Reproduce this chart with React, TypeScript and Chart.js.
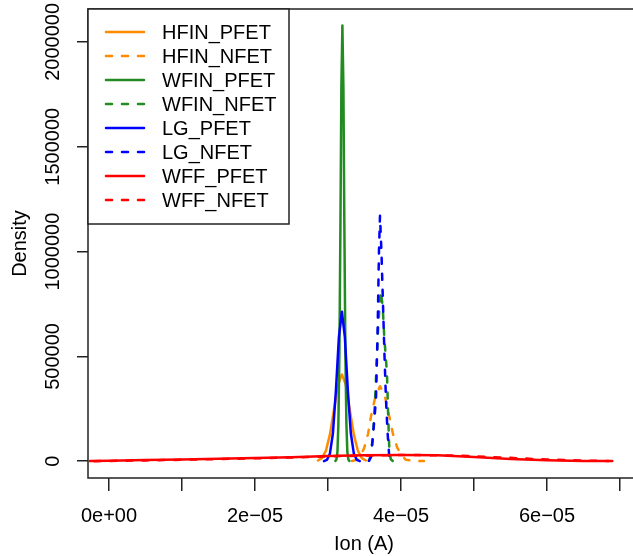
import { useEffect, useRef } from 'react';
import { Chart, registerables } from 'chart.js';

Chart.register(...registerables);

// ---- data (x in amperes, y = density) ----
const seriesNames = ['HFIN_PFET', 'HFIN_NFET', 'WFIN_PFET', 'WFIN_NFET', 'LG_PFET', 'LG_NFET', 'WFF_PFET', 'WFF_NFET'];
const seriesColors = ['#FF8C00', '#FF8C00', '#228B22', '#228B22', '#0000FF', '#0000FF', '#FF0000', '#FF0000'];
const seriesDashed = [false, true, false, true, false, true, false, true];

const hfinPfetX = [2.862e-5, 2.917e-5, 2.971e-5, 3.026e-5, 3.081e-5, 3.136e-5, 3.19e-5, 3.245e-5, 3.299e-5, 3.354e-5, 3.409e-5, 3.463e-5, 3.518e-5];
const hfinPfetY = [3600, 15000, 50000, 127000, 244000, 363000, 414000, 363000, 244000, 127000, 50000, 15000, 3600];

const hfinNfetX = [3.329e-5, 3.411e-5, 3.493e-5, 3.548e-5, 3.589e-5, 3.644e-5, 3.712e-5, 3.78e-5, 3.839e-5, 3.89e-5, 3.948e-5, 4.013e-5, 4.067e-5, 4.176e-5, 4.313e-5];
const hfinNfetY = [1000, 8000, 60000, 130000, 214000, 300000, 358000, 310000, 214000, 130000, 65000, 25000, 7000, 2000, 500];

const wfinPfetX = [3.101e-5, 3.115e-5, 3.129e-5, 3.142e-5, 3.156e-5, 3.17e-5, 3.183e-5, 3.197e-5, 3.211e-5, 3.224e-5, 3.238e-5, 3.252e-5, 3.265e-5, 3.279e-5, 3.293e-5];
const wfinPfetY = [1000, 8000, 44000, 177000, 520000, 1120000, 1780000, 2078000, 1780000, 1120000, 520000, 177000, 44000, 8000, 1000];

const wfinNfetX = [3.558e-5, 3.585e-5, 3.61e-5, 3.633e-5, 3.661e-5, 3.688e-5, 3.722e-5, 3.749e-5, 3.77e-5, 3.807e-5, 3.824e-5, 3.838e-5, 3.859e-5, 3.886e-5];
const wfinNfetY = [2000, 25000, 103000, 214000, 420000, 650000, 811000, 740000, 597000, 423000, 220000, 71000, 10000, 1000];

const lgPfetX = [2.944e-5, 2.985e-5, 3.026e-5, 3.067e-5, 3.108e-5, 3.149e-5, 3.19e-5, 3.231e-5, 3.272e-5, 3.313e-5, 3.354e-5, 3.395e-5, 3.436e-5];
const lgPfetY = [500, 6600, 36000, 132000, 336000, 592000, 713000, 592000, 336000, 132000, 36000, 6600, 500];

const lgNfetX = [3.562e-5, 3.589e-5, 3.62e-5, 3.657e-5, 3.679e-5, 3.698e-5, 3.712e-5, 3.732e-5, 3.753e-5, 3.771e-5, 3.794e-5, 3.816e-5, 3.839e-5, 3.862e-5];
const lgNfetY = [2000, 20000, 136000, 294000, 615000, 1000000, 1171000, 1000000, 750000, 534000, 294000, 136000, 20000, 2000];

const wffPfetX = [-0.26e-5, 0, 0.5e-5, 1e-5, 1.5e-5, 2e-5, 2.5e-5, 3e-5, 3.5e-5, 4e-5, 4.5e-5, 5e-5, 5.5e-5, 6e-5, 6.5e-5, 6.84e-5];
const wffPfetY = [500, 2500, 5500, 8500, 12000, 15500, 19500, 24500, 28500, 30000, 28000, 20000, 11000, 5000, 1500, 500];

const wffNfetX = [-0.2e-5, 0, 0.5e-5, 1e-5, 1.5e-5, 2e-5, 2.5e-5, 3e-5, 3.5e-5, 4e-5, 4.5e-5, 5e-5, 5.5e-5, 6e-5, 6.5e-5, 6.9e-5];
const wffNfetY = [200, 1500, 4000, 7000, 10500, 14000, 18000, 23000, 27000, 29500, 29000, 24000, 16000, 8000, 3000, 800];

const seriesX = [hfinPfetX, hfinNfetX, wfinPfetX, wfinNfetX, lgPfetX, lgNfetX, wffPfetX, wffNfetX];
const seriesY = [hfinPfetY, hfinNfetY, wfinPfetY, wfinNfetY, lgPfetY, lgNfetY, wffPfetY, wffNfetY];

const xTickValues = [0, 1e-5, 2e-5, 3e-5, 4e-5, 5e-5, 6e-5, 7e-5];
const xTickLabels = ['0e+00', '', '2e\u221205', '', '4e\u221205', '', '6e\u221205', ''];
const yTickValues = [0, 500000, 1000000, 1500000, 2000000];
const yTickLabels = ['0', '500000', '1000000', '1500000', '2000000'];

const xTitle = 'Ion (A)';
const yTitle = 'Density';

const FONT = 'Liberation Sans, Arial, Helvetica, sans-serif';
const FS = 20;
const AXIS_COLOR = '#222';
const DASH = [6, 10];

const boxAndLegend = {
  id: 'boxAndLegend',
  afterDatasetsDraw(chart: any) {
    const { ctx, chartArea } = chart;
    const { left, top, right, bottom } = chartArea;
    ctx.save();
    ctx.strokeStyle = AXIS_COLOR;
    ctx.lineWidth = 1.5;
    ctx.setLineDash([]);
    ctx.strokeRect(left, top, right - left, bottom - top);

    // legend box (top-left)
    const lw = 201;
    const lh = 215;
    ctx.fillStyle = '#fff';
    ctx.fillRect(left, top, lw, lh);
    ctx.strokeRect(left, top, lw, lh);
    ctx.font = `${FS}px ${FONT}`;
    ctx.textBaseline = 'middle';
    ctx.textAlign = 'left';
    chart.data.datasets.forEach((ds: any, i: number) => {
      const y = top + 23 + i * 24;
      ctx.strokeStyle = ds.borderColor;
      ctx.lineWidth = ds.borderWidth;
      ctx.lineCap = 'round';
      ctx.setLineDash(ds.borderDash || []);
      ctx.beginPath();
      ctx.moveTo(left + 18, y);
      ctx.lineTo(left + 56, y);
      ctx.stroke();
      ctx.setLineDash([]);
      ctx.fillStyle = '#000';
      ctx.fillText(ds.label, left + 74, y + 1);
    });
    ctx.restore();
  },
};

export default function App() {
  const canvasRef = useRef<HTMLCanvasElement | null>(null);

  useEffect(() => {
    const canvas = canvasRef.current;
    if (!canvas) return;
    const datasets = seriesNames.map((name, i) => ({
      label: name,
      data: seriesX[i].map((x, j) => ({ x, y: seriesY[i][j] })),
      borderColor: seriesColors[i],
      backgroundColor: seriesColors[i],
      borderWidth: 2.5,
      borderDash: seriesDashed[i] ? DASH : [],
      borderCapStyle: 'round',
      borderJoinStyle: 'round',
      pointRadius: 0,
      tension: 0,
      fill: false,
      order: seriesNames.length - 1 - i,
    }));

    const chart = new Chart(canvas, {
      type: 'line',
      data: { datasets } as any,
      options: {
        responsive: false,
        animation: false,
        devicePixelRatio: 1,
        layout: { padding: { left: 0, top: 9, right: 20, bottom: 0 } },
        plugins: { legend: { display: false }, tooltip: { enabled: false } },
        scales: {
          x: {
            type: 'linear',
            position: 'bottom',
            min: -0.288e-5,
            max: 7.274e-5,
            afterBuildTicks: (scale: any) => {
              scale.ticks = xTickValues.map((v) => ({ value: v }));
            },
            afterFit: (scale: any) => {
              scale.height = 78;
            },
            ticks: {
              autoSkip: false,
              maxRotation: 0,
              minRotation: 0,
              padding: 13,
              color: '#000',
              font: { family: FONT, size: FS },
              callback: (_v: any, idx: number) => xTickLabels[idx],
            },
            grid: {
              drawOnChartArea: false,
              drawTicks: true,
              tickLength: 13,
              color: AXIS_COLOR,
              lineWidth: 1.5,
            },
            border: { display: false },
            title: {
              display: true,
              text: xTitle,
              color: '#000',
              font: { family: FONT, size: FS },
              padding: { top: 0, bottom: 0 },
            },
          },
          y: {
            type: 'linear',
            position: 'left',
            min: -80000,
            max: 2157000,
            afterBuildTicks: (scale: any) => {
              scale.ticks = yTickValues.map((v) => ({ value: v }));
            },
            afterFit: (scale: any) => {
              scale.width = 88;
            },
            ticks: {
              autoSkip: false,
              minRotation: 90,
              maxRotation: 90,
              crossAlign: 'center',
              padding: -15,
              color: '#000',
              font: { family: FONT, size: FS },
              callback: (_v: any, idx: number) => yTickLabels[idx],
            },
            grid: {
              drawOnChartArea: false,
              drawTicks: true,
              tickLength: 11,
              color: AXIS_COLOR,
              lineWidth: 1.5,
            },
            border: { display: false },
            title: {
              display: true,
              text: yTitle,
              color: '#000',
              font: { family: FONT, size: FS },
              padding: { top: 8, bottom: 0 },
            },
          },
        },
      } as any,
      plugins: [boxAndLegend],
    });
    return () => chart.destroy();
  }, []);

  return (
    <div style={{ position: 'absolute', left: 0, top: 0, width: 633, height: 556, overflow: 'hidden', background: '#fff' }}>
      <canvas ref={canvasRef} width={660} height={556} style={{ display: 'block' }} />
    </div>
  );
}
